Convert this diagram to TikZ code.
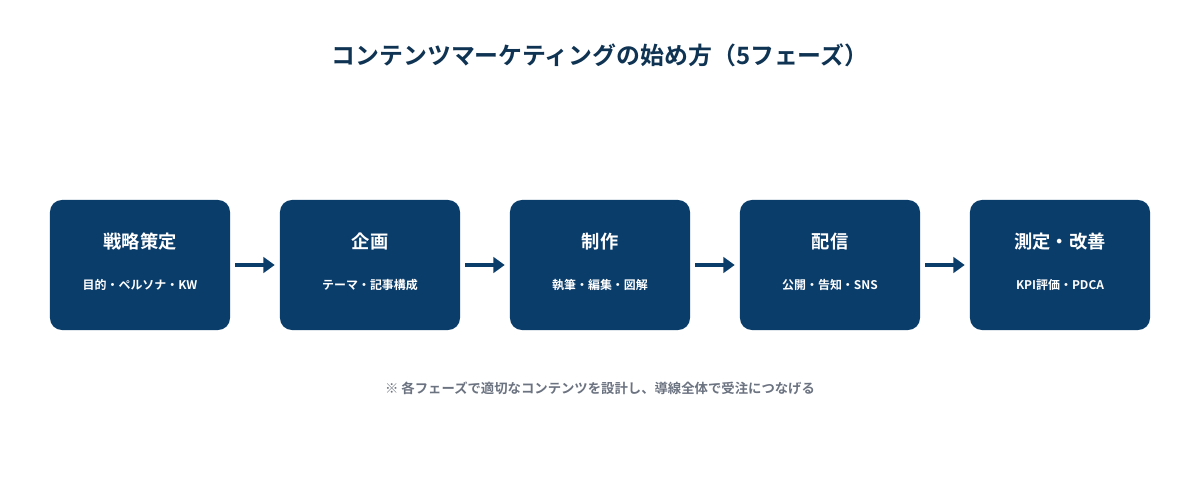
\documentclass[tikz,border=0pt]{standalone}
\usepackage{fontspec}
\setmainfont{Noto Sans CJK JP}[BoldFont={Noto Sans CJK JP Bold}]
\usetikzlibrary{positioning,arrows.meta}
\definecolor{navy}{HTML}{0B3D6B}
\definecolor{titlecol}{HTML}{0F3352}
\definecolor{notecol}{HTML}{6B7280}
\begin{document}
\begin{tikzpicture}[x=0.025cm,y=-0.025cm]
	\tikzstyle{phase}=[fill=navy,rounded corners=12*0.025cm,minimum width=4.5cm,minimum height=3.25cm,inner sep=0pt]
	\tikzstyle{flow}=[draw=navy,line width=3pt,-{Triangle[length=8pt,width=11pt]}]
	\useasboundingbox (0,0) rectangle (1200,480);
	\node[font=\bfseries\fontsize{17}{20}\selectfont,text=titlecol] (title) at (600,55) {コンテンツマーケティングの始め方（5フェーズ）};
	\foreach \i/\head/\sub [count=\n] in {0/戦略策定/目的・ペルソナ・KW,1/企画/テーマ・記事構成,2/制作/執筆・編集・図解,3/配信/公開・告知・SNS,4/測定・改善/KPI評価・PDCA}{
		\node[phase] (p\n) at (140+230*\i,265) {};
		\node[text=white,font=\bfseries\fontsize{13}{16}\selectfont] at (140+230*\i,242) {\head};
		\node[text=white,font=\bfseries\fontsize{8.5}{10}\selectfont] at (140+230*\i,285) {\sub};
	}
	\foreach \a/\b in {1/2,2/3,3/4,4/5}
		\draw[flow] ([xshift=0.125cm]p\a.east) -- ([xshift=-0.125cm]p\b.west);
	\node[font=\bfseries\fontsize{9.5}{12}\selectfont,text=notecol] (note) at (600,388) {※ 各フェーズで適切なコンテンツを設計し、導線全体で受注につなげる};
\end{tikzpicture}
\end{document}
